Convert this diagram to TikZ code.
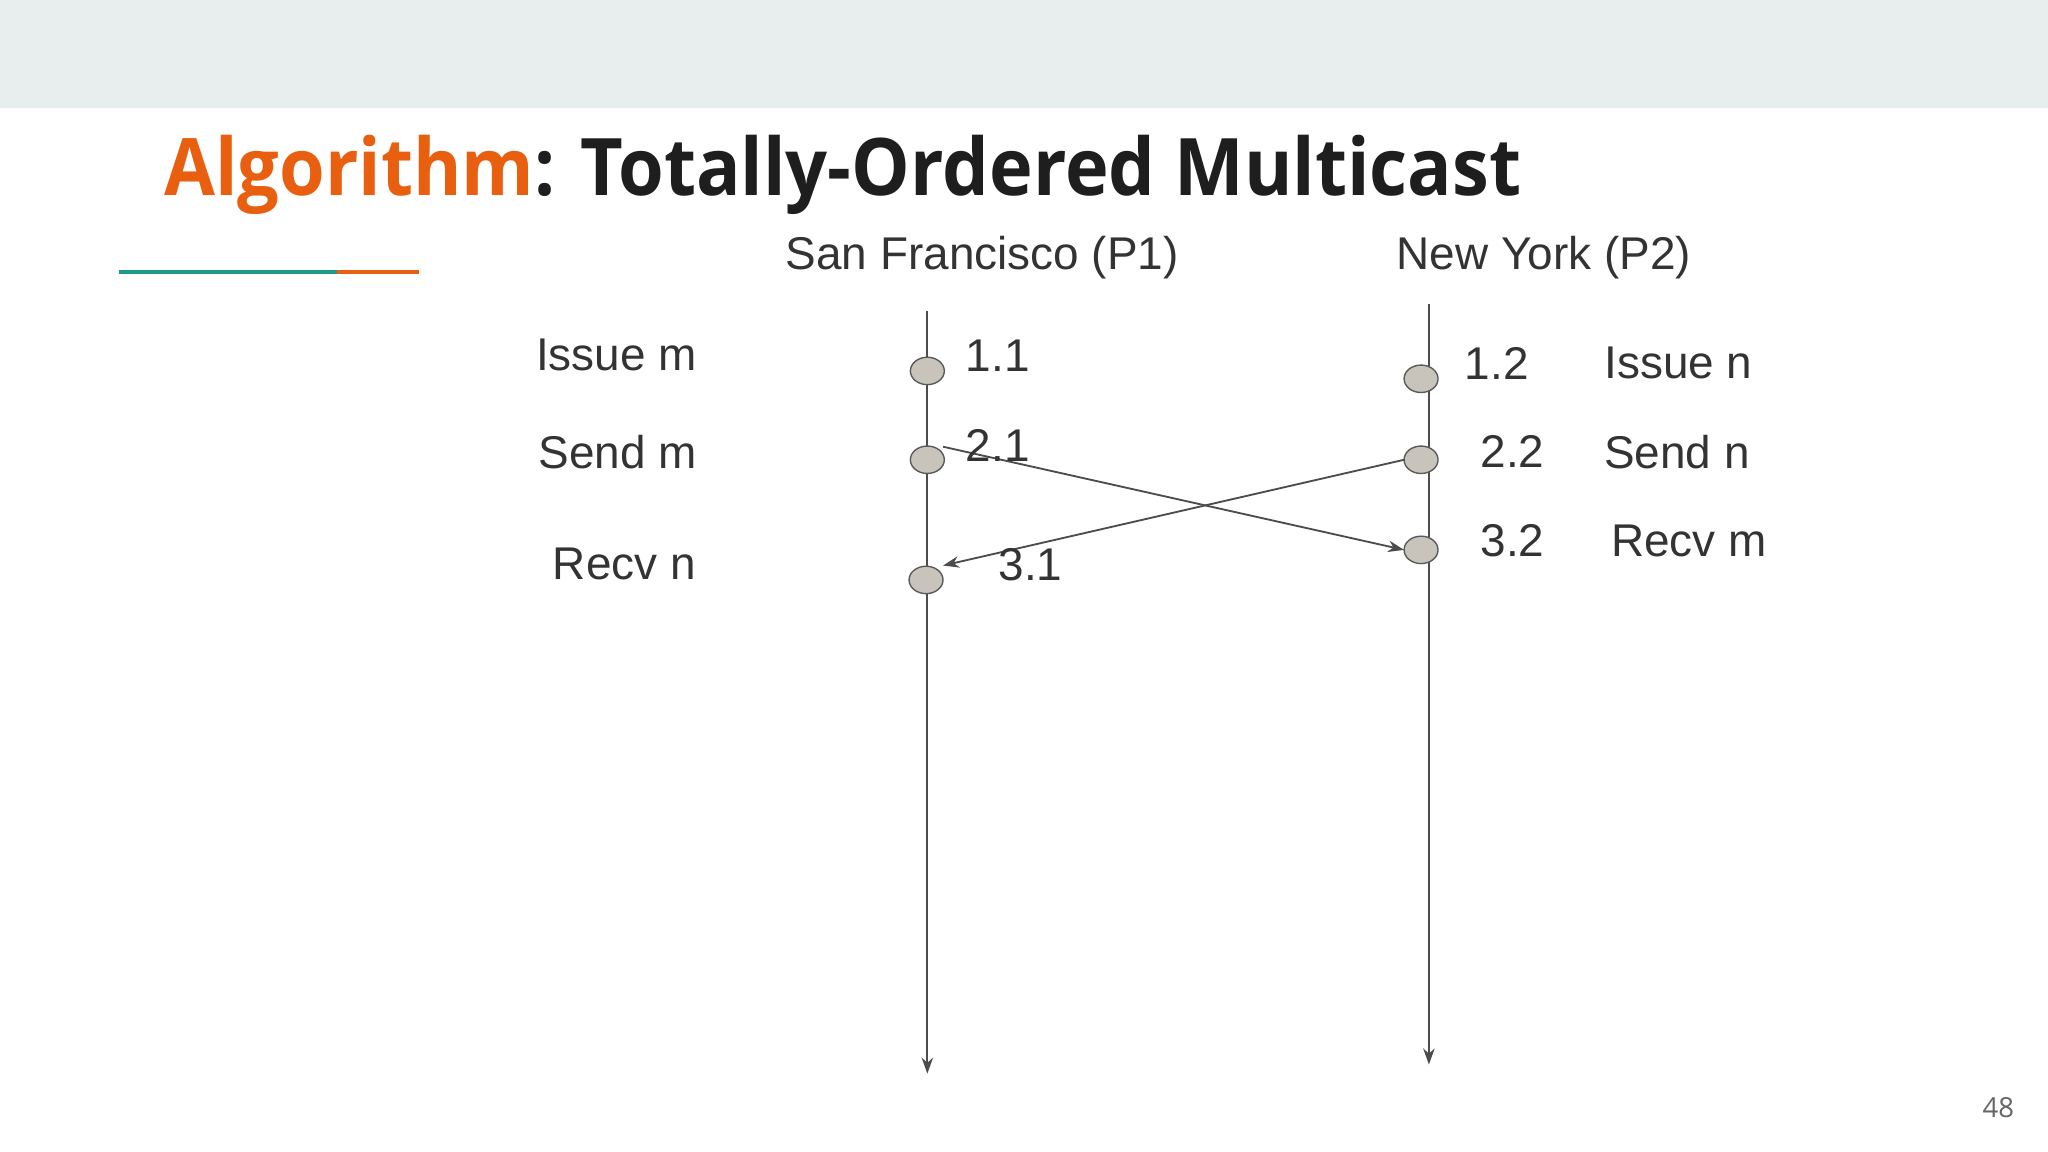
\documentclass[tikz,border=0pt]{standalone}
\usepackage{fontspec}
\setmainfont{Liberation Sans}
\newfontfamily\titlefont{Open Sans}
\usetikzlibrary{arrows.meta,shapes.geometric}
\definecolor{band}{HTML}{E8EEEE}
\definecolor{orng}{HTML}{E8600F}
\definecolor{teal}{HTML}{1A9A8A}
\definecolor{dot}{HTML}{C8C4BC}
\definecolor{txt}{HTML}{333333}
\definecolor{ttl}{HTML}{1E1E1E}
\newlength{\px}\setlength{\px}{0.1mm}
\tikzset{
  ev/.style={ellipse,draw=gray!70!black,fill=dot,minimum width=26\px,minimum height=21\px,inner sep=0pt,line width=0.3pt},
  lbl/.style={text=txt,font=\fontsize{10}{12}\selectfont,inner sep=0pt},
  tl/.style={draw=gray!60!black,line width=0.4pt,-{Stealth[length=3.5pt,width=2.5pt]}},
  msg/.style={draw=gray!60!black,line width=0.4pt,-{Stealth[length=3.5pt,width=2.5pt]}}
}
\begin{document}
\begin{tikzpicture}[x=0.1mm,y=-0.1mm]
\useasboundingbox (0,0) rectangle (1568,882);
\fill[band] (0,0) rectangle (1568,83);
\node[anchor=base west,inner sep=0pt,xscale=0.93,text=ttl,font=\titlefont\bfseries\fontsize{17.3}{21}\selectfont] (title) at (125,150) {\textcolor{orng}{Algorithm}: Totally-Ordered Multicast};
\draw[teal,line width=0.8pt] (91,208) -- (258,208);
\draw[orng,line width=0.8pt] (258,208) -- (321,208);
% timelines
\coordinate (p1t) at (710,238); \coordinate (p1b) at (710,822);
\coordinate (p2t) at (1094,233); \coordinate (p2b) at (1094,815);
\draw[tl] (p1t) -- (p1b);
\draw[tl] (p2t) -- (p2b);
\node[lbl] (h1) at (752,197) {San Francisco (P1)};
\node[lbl] (h2) at (1182,197) {New York (P2)};
% events
\node[ev] (a1) at (710,284) {};
\node[ev] (a2) at (710,352) {};
\node[ev] (a3) at (709,444) {};
\node[ev] (b1) at (1088,290) {};
\node[ev] (b2) at (1088,352) {};
\node[ev] (b3) at (1088,421) {};
\coordinate (s1) at (722,342); \coordinate (r2) at (1075,421);
\coordinate (s2) at (1075,352); \coordinate (r1) at (722,433);
\draw[msg] (s1) -- (r2);
\draw[msg] (s2) -- (r1);
% labels
\node[lbl] (l1) at (472,272) {Issue m};
\node[lbl] (l2) at (473,346) {Send m};
\node[lbl] (l3) at (478,432) {Recv n};
\node[lbl] (n11) at (764,272) {1.1};
\node[lbl] (n21) at (764,341) {2.1};
\node[lbl] (n31) at (789,432) {3.1};
\node[lbl] (n12) at (1146,278) {1.2};
\node[lbl] (n22) at (1158,346) {2.2};
\node[lbl] (n32) at (1158,414) {3.2};
\node[lbl] (r1l) at (1285,278) {Issue n};
\node[lbl] (r2l) at (1284,346) {Send n};
\node[lbl] (r3l) at (1293,414) {Recv m};
\node[text=gray!80!black,font=\titlefont\fontsize{6}{7}\selectfont] (pg) at (1530,848) {48};
\end{tikzpicture}
\end{document}
